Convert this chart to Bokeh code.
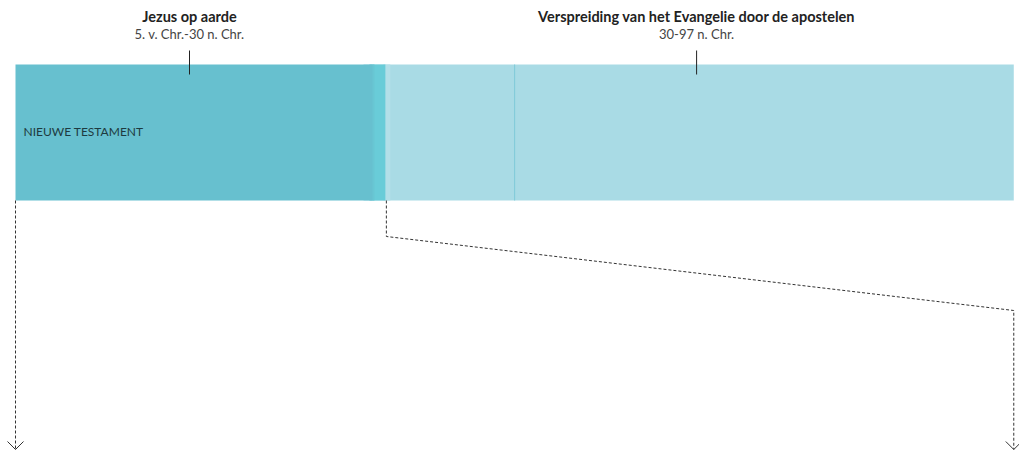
from bokeh.plotting import figure
from bokeh.models import Range1d
from bokeh.core.properties import value
from bokeh.embed import file_html
from bokeh.resources import INLINE

# ---- data ----
period_titles = ["Jezus op aarde", "Verspreiding van het Evangelie door de apostelen"]
period_subtitles = ["5. v. Chr.-30 n. Chr.", "30-97 n. Chr."]
period_start = [-5, 30]
period_end = [30, 97]
period_colors = ["#67C0CF", "#A9DBE5"]
era_label = ["NIEUWE TESTAMENT"]
sub_marks = [45.2]
zoom_from = [-5, 32.3]
view_end = 95.4   # visible end of the timeline strip

# ---- layout / style ----
W, H = 1019, 452
PX_PER_YEAR = 9.943
x0 = period_start[0] - 15 / PX_PER_YEAR
x1 = x0 + W / PX_PER_YEAR
BAR_TOP, BAR_BOTTOM = 64, 200
TICK_TOP, TICK_BOTTOM = 50, 74
FONT = value("Lato")

p = figure(width=W, height=H, output_backend="svg", toolbar_location=None,
           x_range=Range1d(x0, x1), y_range=Range1d(H, 0),
           min_border=0, min_border_left=0, min_border_right=0,
           min_border_top=0, min_border_bottom=0)
p.axis.visible = False
p.grid.visible = False
p.outline_line_color = None
p.background_fill_color = "white"
p.border_fill_color = "white"

# fade at the boundary (offsets in years after the period end), drawn overlapping
b = period_end[0]
fade = [(2.0, 2.7, "#B3DFE8"), (0.9, 2.2, "#69CCD8"), (0.6, 1.1, "#68C6D3")]

# light bar
p.quad(left=[period_start[1]], right=[min(period_end[1], view_end)], top=[BAR_TOP], bottom=[BAR_BOTTOM],
       fill_color=period_colors[1], line_color=None)
for a, c, col in fade:
    p.quad(left=[b + a], right=[b + c], top=[BAR_TOP], bottom=[BAR_BOTTOM],
           fill_color=col, line_color=None)
# dark bar, running into the fade
p.quad(left=[period_start[0]], right=[b + 0.9], top=[BAR_TOP], bottom=[BAR_BOTTOM],
       fill_color=period_colors[0], line_color=None)

# thin sub-marks
for m in sub_marks:
    p.segment(x0=[m], x1=[m], y0=[BAR_TOP], y1=[BAR_BOTTOM], line_color="#7FCAD8", line_width=1)

# period ticks and labels
mids = [(s + e) / 2 for s, e in zip(period_start, period_end)]
p.segment(x0=mids, x1=mids, y0=[TICK_TOP] * 2, y1=[TICK_BOTTOM] * 2, line_color="#222222", line_width=1)
p.text(x=mids, y=[16] * 2, text=period_titles, text_font=FONT, text_font_style="bold",
       text_font_size="14.5px", text_color="#222222", text_align="center", text_baseline="middle")
p.text(x=mids, y=[33] * 2, text=period_subtitles, text_font=FONT,
       text_font_size="13px", text_color="#444444", text_align="center", text_baseline="middle")

# era label
p.text(x=[period_start[0] + 8 / PX_PER_YEAR], y=[131], text=era_label, text_font=FONT,
       text_font_size="12px", text_color="#1E3A40", text_align="left", text_baseline="middle")

# dashed zoom lines
ARROW_TIP = 449
right_x = view_end
dash = dict(line_color="#333333", line_width=1, line_dash="3 2")
p.line(x=[zoom_from[0], zoom_from[0]], y=[BAR_BOTTOM, ARROW_TIP], **dash)
p.line(x=[zoom_from[1], zoom_from[1], right_x, right_x], y=[BAR_BOTTOM, 236, 310, ARROW_TIP], **dash)

# chevrons
hw = 8 / PX_PER_YEAR
for cx in [zoom_from[0], right_x]:
    p.line(x=[cx - hw, cx, cx + hw], y=[ARROW_TIP - 8, ARROW_TIP, ARROW_TIP - 8],
           line_color="#333333", line_width=1)

open("out.html", "w").write(file_html(p, INLINE))
